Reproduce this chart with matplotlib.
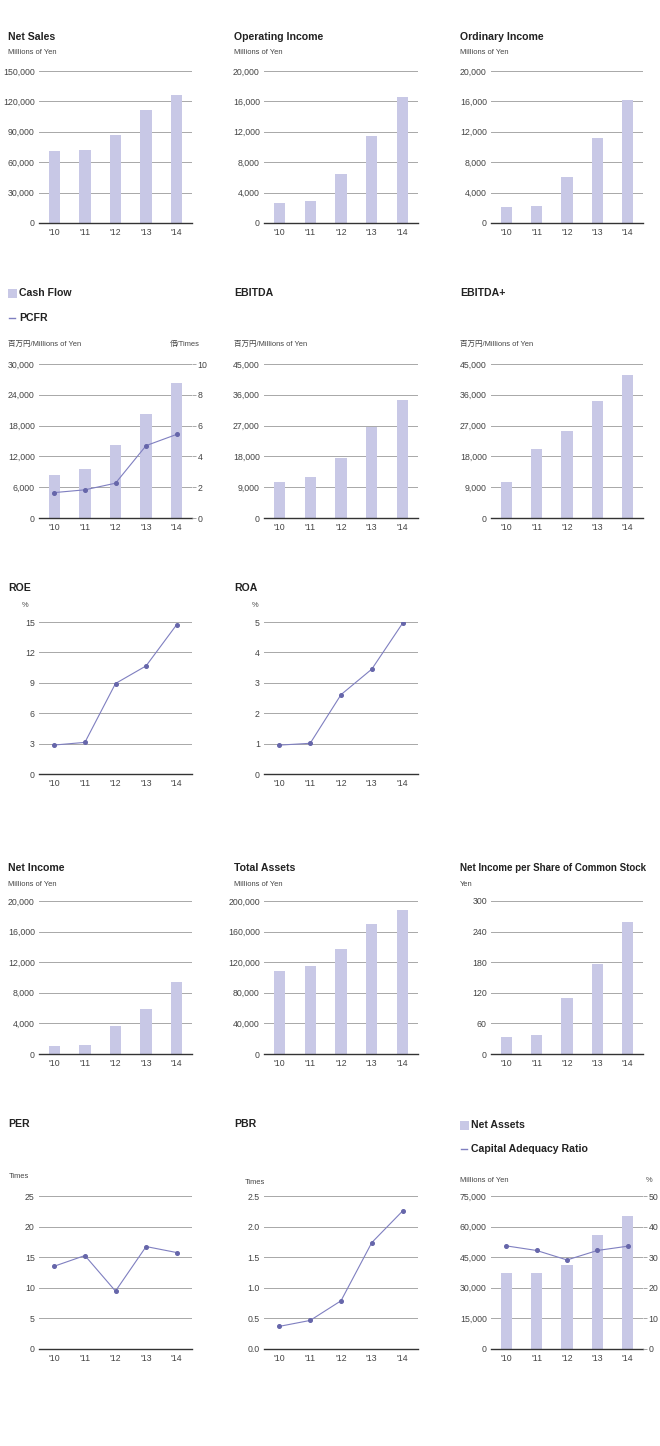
import matplotlib
matplotlib.use("Agg")
import matplotlib.pyplot as plt
from matplotlib.patches import Rectangle
from matplotlib.lines import Line2D
from matplotlib.ticker import FuncFormatter

plt.rcParams['font.family'] = ['Liberation Sans', 'Noto Sans CJK JP', 'DejaVu Sans']

years = ["'10", "'11", "'12", "'13", "'14"]

net_sales = [70570, 71550, 86650, 111600, 126040]
operating_income = [2670, 2930, 6430, 11470, 16540]
ordinary_income = [2100, 2280, 6000, 11160, 16150]
cash_flow = [8350, 9520, 14150, 20350, 26350]
pcfr = [1.65, 1.83, 2.26, 4.70, 5.43]
ebitda = [10570, 11940, 17610, 26710, 34440]
ebitda_plus = [10660, 20150, 25530, 34240, 41870]
roe = [2.86, 3.12, 8.93, 10.67, 14.74]
roa = [0.95, 1.01, 2.61, 3.45, 4.96]
net_income = [1090, 1220, 3610, 5870, 9390]
total_assets = [109100, 115200, 137800, 169600, 188700]
eps = [33.3, 37.2, 108.9, 176.1, 258.9]
per = [13.53, 15.27, 9.46, 16.74, 15.76]
pbr = [0.37, 0.467, 0.788, 1.739, 2.255]
net_assets = [37010, 37500, 41250, 56090, 65380]
car = [33.7, 32.2, 29.1, 32.2, 33.6]

W, H = 660, 1446
BAR = '#c8c8e6'
LINE = '#7f7fc0'
MARK = '#6666aa'
GRID = '#a8a8a8'
TICK = '#444444'

fig = plt.figure(figsize=(W / 100, H / 100), dpi=100)
fig.patch.set_facecolor('white')

cols = [(39, 192), (264, 418), (491, 643)]
rows = [(71, 223), (364, 518), (622, 774), (901, 1054), (1196, 1349)]


def fx(x):
    return x / W


def fy(y):
    return 1 - y / H


def make_ax(c, r):
    x0, x1 = cols[c]
    y0, y1 = rows[r]
    return fig.add_axes([fx(x0), fy(y1), (x1 - x0) / W, (y1 - y0) / H])


def style(ax, ymax, step, fmt):
    ax.set_xlim(-0.5, 4.5)
    ax.set_ylim(0, ymax)
    ticks = [i * step for i in range(int(round(ymax / step)) + 1)]
    ax.set_yticks(ticks)
    ax.yaxis.set_major_formatter(FuncFormatter(fmt))
    ax.set_xticks(range(5))
    ax.set_xticklabels(years)
    for s in ['top', 'right', 'left']:
        ax.spines[s].set_visible(False)
    ax.spines['bottom'].set_color('#333333')
    ax.spines['bottom'].set_linewidth(1.0)
    ax.yaxis.grid(True, color=GRID, linewidth=0.7)
    ax.set_axisbelow(True)
    ax.tick_params(axis='y', length=0, pad=3, labelsize=6.3, labelcolor=TICK)
    ax.tick_params(axis='x', length=0, pad=3.5, labelsize=6.3, labelcolor=TICK)


def comma(v, p=None):
    return f"{int(round(v)):,}"


def plain(v, p=None):
    return f"{int(round(v))}"


def onedec(v, p=None):
    return f"{v:.1f}"


def title(x, y, s, size=7.6):
    fig.text(fx(x), fy(y), s, fontsize=size, fontweight='bold', color='#222222',
             ha='left', va='center')


def sub(x, y, s, ha='left'):
    fig.text(fx(x), fy(y), s, fontsize=5.4, color='#444444', ha=ha, va='center')


def legend_bar(x, y, s):
    fig.add_artist(Rectangle((fx(x), fy(y + 4.5)), 8.5 / W, 9 / H, transform=fig.transFigure,
                             facecolor=BAR, edgecolor='none'))
    fig.text(fx(x + 11), fy(y), s, fontsize=7.6, fontweight='bold', color='#222222',
             ha='left', va='center')


def legend_line(x, y, s):
    fig.add_artist(Line2D([fx(x + 1), fx(x + 7)], [fy(y), fy(y)], transform=fig.transFigure,
                          color=LINE, linewidth=1.0))
    fig.text(fx(x + 11), fy(y), s, fontsize=7.6, fontweight='bold', color='#222222',
             ha='left', va='center')


def bar_panel(c, r, data, ymax, step, fmt=comma):
    ax = make_ax(c, r)
    ax.bar(range(5), data, width=0.37, color=BAR, zorder=2)
    style(ax, ymax, step, fmt)
    return ax


def line_panel(c, r, data, ymax, step, fmt=plain):
    ax = make_ax(c, r)
    ax.plot(range(5), data, color=LINE, linewidth=0.8, marker='o', markersize=2.6,
            markerfacecolor=MARK, markeredgecolor=MARK, zorder=3)
    style(ax, ymax, step, fmt)
    return ax


def right_axis(ax, data, ymax, step):
    ax2 = ax.twinx()
    ax2.plot(range(5), data, color=LINE, linewidth=0.8, marker='o', markersize=2.6,
             markerfacecolor=MARK, markeredgecolor=MARK, zorder=3)
    ax2.set_ylim(0, ymax)
    ax2.set_yticks([i * step for i in range(int(round(ymax / step)) + 1)])
    ax2.yaxis.set_major_formatter(FuncFormatter(plain))
    for s in ['top', 'right', 'left', 'bottom']:
        ax2.spines[s].set_visible(False)
    ax2.tick_params(axis='y', length=3, width=0.7, color=GRID, pad=1, labelsize=6.3,
                    labelcolor=TICK)
    return ax2


# Row 1
title(8, 37, "Net Sales"); sub(8, 53, "Millions of Yen")
bar_panel(0, 0, net_sales, 150000, 30000)
title(234, 37, "Operating Income"); sub(234, 53, "Millions of Yen")
bar_panel(1, 0, operating_income, 20000, 4000)
title(460, 37, "Ordinary Income"); sub(460, 53, "Millions of Yen")
bar_panel(2, 0, ordinary_income, 20000, 4000)

# Row 2
legend_bar(8, 293, "Cash Flow")
legend_line(8, 318, "PCFR")
sub(8, 344, "百万円/Millions of Yen")
sub(200, 344, "倍/Times", ha='right')
ax = bar_panel(0, 1, cash_flow, 30000, 6000)
right_axis(ax, pcfr, 10, 2)
title(234, 293, "EBITDA"); sub(234, 344, "百万円/Millions of Yen")
bar_panel(1, 1, ebitda, 45000, 9000)
title(460, 293, "EBITDA+"); sub(460, 344, "百万円/Millions of Yen")
bar_panel(2, 1, ebitda_plus, 45000, 9000)

# Row 3
title(8, 588, "ROE"); sub(22, 605, "%")
line_panel(0, 2, roe, 15, 3)
title(234, 588, "ROA"); sub(252, 605, "%")
line_panel(1, 2, roa, 5, 1)

# Row 4
title(8, 868, "Net Income"); sub(8, 884, "Millions of Yen")
bar_panel(0, 3, net_income, 20000, 4000)
title(234, 868, "Total Assets"); sub(234, 884, "Millions of Yen")
bar_panel(1, 3, total_assets, 200000, 40000)
title(460, 868, "Net Income per Share of Common Stock", size=7.0); sub(460, 884, "Yen")
bar_panel(2, 3, eps, 300, 60, plain)

# Row 5
title(8, 1124, "PER"); sub(9, 1176, "Times")
line_panel(0, 4, per, 25, 5)
title(234, 1124, "PBR"); sub(245, 1182, "Times")
line_panel(1, 4, pbr, 2.5, 0.5, onedec)
legend_bar(460, 1125, "Net Assets")
legend_line(460, 1149, "Capital Adequacy Ratio")
sub(460, 1181, "Millions of Yen")
sub(652, 1181, "%", ha='right')
ax = bar_panel(2, 4, net_assets, 75000, 15000)
right_axis(ax, car, 50, 10)

fig.savefig("out.png", dpi=100, facecolor='white')
